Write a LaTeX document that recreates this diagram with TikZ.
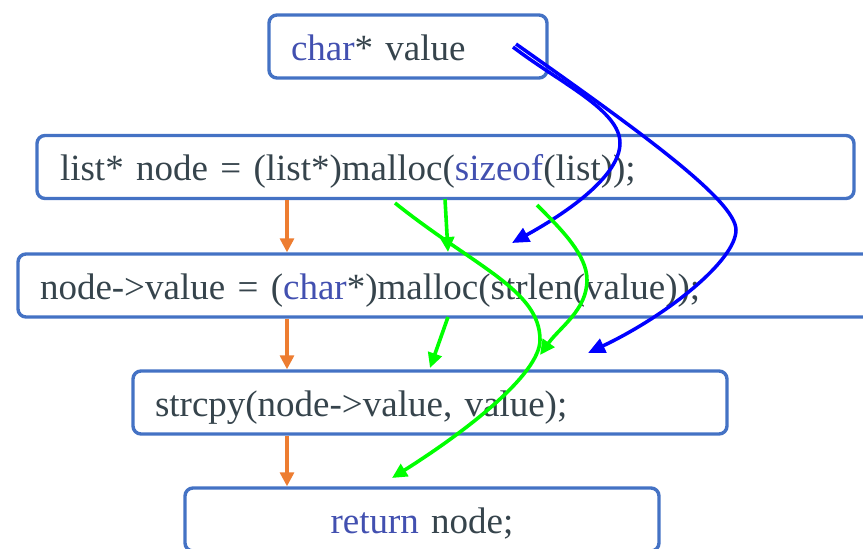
\documentclass[tikz,border=0pt]{standalone}
\usepackage{fontspec}
\setmainfont{Liberation Serif}
\usetikzlibrary{arrows.meta}

\definecolor{boxblue}{RGB}{68,114,196}
\definecolor{codetext}{RGB}{54,68,76}
\definecolor{keyword}{RGB}{66,80,176}
\definecolor{flow}{RGB}{237,125,49}
\definecolor{ptrblue}{RGB}{0,0,255}
\definecolor{datagreen}{RGB}{0,255,0}

\newcommand{\kwd}[1]{\textcolor{keyword}{#1}}

\begin{document}
\begin{tikzpicture}[x=1pt,y=-1pt,
  codebox/.style={draw=boxblue, line width=3.4pt, rounded corners=8pt,
    text=codetext, font=\fontsize{37}{44}\selectfont,
    text height=27pt, text depth=0pt, minimum height=63pt,
    inner ysep=0pt, inner xsep=22pt, align=left},
  flowarrow/.style={draw=flow, line width=3.2pt,
    -{Triangle[length=14pt,width=14pt]}},
  ptrarrow/.style={draw=ptrblue, line width=3.5pt,
    -{Triangle[length=17pt,width=15pt]}},
  dataarrow/.style={draw=datagreen, line width=3.6pt,
    -{Triangle[length=15pt,width=14pt]}}
]
\useasboundingbox (0,0) rectangle (863,549);
\clip (0,0) rectangle (863,549);

% statements of the function
\node[codebox, text width=234pt] (decl) at (408,46.5) {\kwd{char}* value};
\node[codebox, text width=771pt, inner xsep=23pt] (alloc) at (445.5,167)
  {list* node = (list*)malloc(\kwd{sizeof}(list));};
\node[codebox, text width=813pt] (valloc) at (446.5,285.5)
  {node->value = (\kwd{char}*)malloc(strlen(value));};
\node[codebox, text width=550pt] (copy) at (430,402.5)
  {strcpy(node->value, value);};
\node[codebox, text width=430pt, align=center] (ret) at (422,519.5)
  {\kwd{return} node;};

% control flow between statements
\coordinate (flowx) at (287,0);
\draw[flowarrow] (alloc.south -| flowx) -- (valloc.north -| flowx);
\draw[flowarrow] (valloc.south -| flowx) -- (copy.north -| flowx);
\draw[flowarrow] (copy.south -| flowx) -- (ret.north -| flowx);

% uses of the parameter
\coordinate (vsrcA) at (513,47);
\coordinate (vsrcB) at (516,44);
\coordinate (vdstA) at (512,243);
\coordinate (vdstB) at (588,353);
\draw[ptrarrow] (vsrcA) .. controls (560,83) and (620,110) .. (620,143)
  .. controls (620,175) and (570,211) .. (vdstA);
\draw[ptrarrow] (vsrcB) .. controls (635,128) and (736,200) .. (736,230)
  .. controls (736,260) and (668,315) .. (vdstB);

% data carried between statements
\coordinate (g1s) at (395,203);
\coordinate (g1e) at (392,478);
\coordinate (g2s) at (445,199);
\coordinate (g2e) at (448,252);
\coordinate (g3s) at (537,205);
\coordinate (g3e) at (540,355);
\coordinate (g4s) at (448,317);
\coordinate (g4e) at (430,368);
\draw[dataarrow] (g1s) .. controls (475,267) and (540,290) .. (540,340)
  .. controls (540,375) and (462,434) .. (g1e);
\draw[dataarrow] (g2s) -- (g2e);
\draw[dataarrow] (g3s) .. controls (562,230) and (587,255) .. (587,280)
  .. controls (587,310) and (560,327) .. (g3e);
\draw[dataarrow] (g4s) -- (g4e);
\end{tikzpicture}
\end{document}
